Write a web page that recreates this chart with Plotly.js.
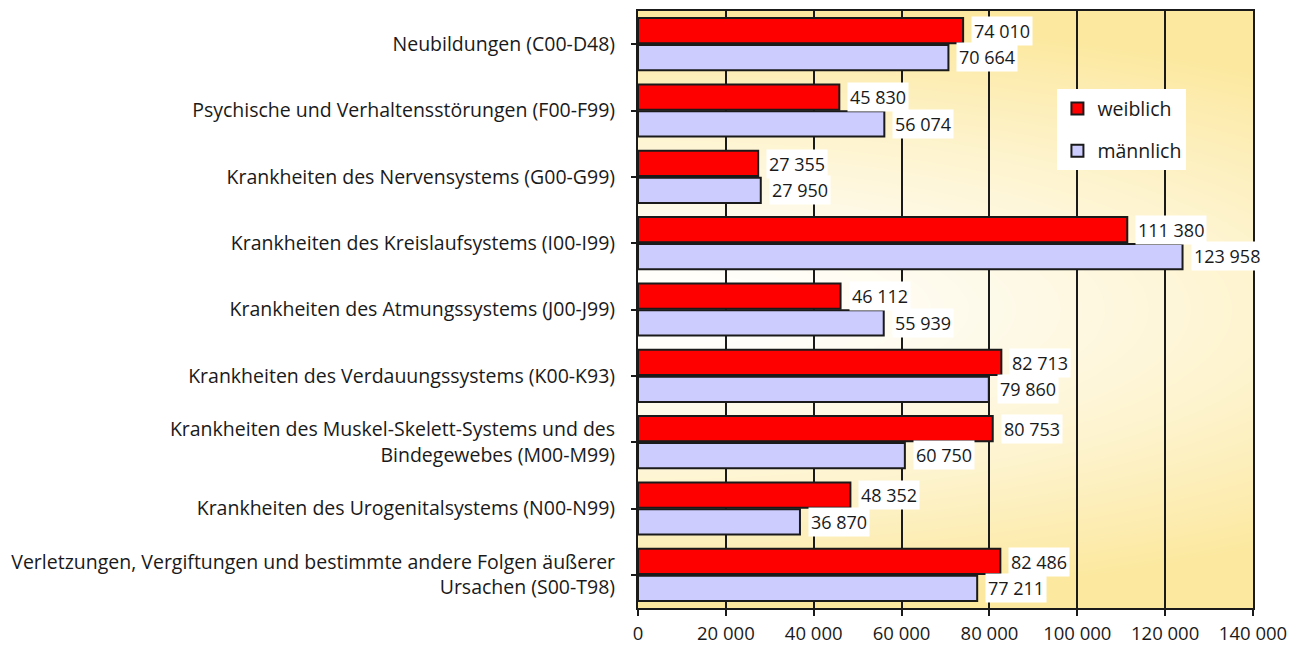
<!DOCTYPE html>
<html>
<head>
<meta charset="utf-8">
<script src="https://cdn.plot.ly/plotly-3.0.1.min.js"></script>
<style>
html, body { margin: 0; padding: 0; background: #ffffff; }
#chart { width: 1305px; height: 645px; }
</style>
</head>
<body>
<div id="chart"></div>
<script>
const categories = [
  "Neubildungen (C00-D48)",
  "Psychische und Verhaltensstörungen (F00-F99)",
  "Krankheiten des Nervensystems (G00-G99)",
  "Krankheiten des Kreislaufsystems (I00-I99)",
  "Krankheiten des Atmungssystems (J00-J99)",
  "Krankheiten des Verdauungssystems (K00-K93)",
  "Krankheiten des Muskel-Skelett-Systems und des<br>Bindegewebes (M00-M99)",
  "Krankheiten des Urogenitalsystems (N00-N99)",
  "Verletzungen, Vergiftungen und bestimmte andere Folgen äußerer<br>Ursachen (S00-T98)"
];
const weiblich = [74010, 45830, 27355, 111380, 46112, 82713, 80753, 48352, 82486];
const maennlich = [70664, 56074, 27950, 123958, 55939, 79860, 60750, 36870, 77211];
const seriesNames = ["weiblich", "männlich"];
const xTickVals = [0, 20000, 40000, 60000, 80000, 100000, 120000, 140000];

const FONT = "'Open Sans', 'Noto Sans', sans-serif";

function fmt(v) {
  return String(v).replace(/\B(?=(\d{3})+(?!\d))/g, ' ');
}

// background gradient image (white centre-left, yellow towards edges)
function makeGradient() {
  const W = 600, H = 600;
  const c = document.createElement('canvas');
  c.width = W; c.height = H;
  const ctx = c.getContext('2d');
  const img = ctx.createImageData(W, H);
  const yel = [252, 232, 158];
  for (let j = 0; j < H; j++) {
    for (let i = 0; i < W; i++) {
      const dy = Math.abs(j - H / 2) / (H / 2);
      const dx = i / W;
      let t = Math.sqrt(dy * dy + 0.35 * dx * dx);
      if (t > 1) t = 1;
      t = Math.pow(t, 1.4);
      const k = (j * W + i) * 4;
      img.data[k] = Math.round(255 + (yel[0] - 255) * t);
      img.data[k + 1] = Math.round(255 + (yel[1] - 255) * t);
      img.data[k + 2] = Math.round(255 + (yel[2] - 255) * t);
      img.data[k + 3] = 255;
    }
  }
  ctx.putImageData(img, 0, 0);
  return c.toDataURL('image/png');
}

const idx = categories.map((_, i) => i);

const traces = [
  {
    type: 'bar', orientation: 'h', name: seriesNames[0], legendgroup: 'w',
    y: idx, x: weiblich,
    marker: { color: '#ff0000', line: { color: '#1a1a1a', width: 2 } },
    hoverinfo: 'x'
  },
  {
    type: 'bar', orientation: 'h', name: seriesNames[1], legendgroup: 'm',
    y: idx, x: maennlich,
    marker: { color: '#ccccff', line: { color: '#1a1a1a', width: 2 } },
    hoverinfo: 'x'
  }
];

const LBL = 18;
const annotations = [];
weiblich.forEach((v, i) => annotations.push({
  x: v, y: i - 0.2, xref: 'x', yref: 'y', text: fmt(v), showarrow: false,
  xanchor: 'left', yanchor: 'middle', xshift: 8, bgcolor: '#ffffff', borderpad: 2,
  font: { family: FONT, size: LBL, color: '#1a1a1a' }
}));
maennlich.forEach((v, i) => annotations.push({
  x: v, y: i + 0.2, xref: 'x', yref: 'y', text: fmt(v), showarrow: false,
  xanchor: 'left', yanchor: 'middle', xshift: 8, bgcolor: '#ffffff', borderpad: 2,
  font: { family: FONT, size: LBL, color: '#1a1a1a' }
}));

const layout = {
  width: 1305, height: 645,
  margin: { l: 638, r: 52, t: 11, b: 37, pad: 0 },
  paper_bgcolor: '#ffffff',
  plot_bgcolor: 'rgba(0,0,0,0)',
  separators: ', ',
  barmode: 'group',
  bargap: 0.19,
  bargroupgap: 0.06,
  showlegend: true,
  legend: {
    x: 0.682, y: 0.869, xanchor: 'left', yanchor: 'top',
    bgcolor: '#ffffff', borderwidth: 0,
    traceorder: 'grouped', tracegroupgap: 14,
    font: { family: FONT, size: 19.5, color: '#1a1a1a' }
  },
  font: { family: FONT, size: 19.5, color: '#1a1a1a' },
  xaxis: {
    range: [0, 140000],
    tickvals: xTickVals,
    tickformat: ',d',
    ticks: 'outside', ticklen: 6, tickwidth: 2, tickcolor: '#1a1a1a',
    showgrid: true, gridcolor: '#1a1a1a', gridwidth: 2,
    showline: true, linecolor: '#1a1a1a', linewidth: 2, mirror: true,
    zeroline: false,
    tickfont: { family: FONT, size: 18.5, color: '#1a1a1a' },
    ticklabelstandoff: 2,
    fixedrange: true
  },
  yaxis: {
    type: 'linear',
    range: [categories.length - 0.5, -0.5],
    tickvals: idx, ticktext: categories,
    ticks: 'outside', ticklen: 5, tickwidth: 2, tickcolor: '#1a1a1a',
    showgrid: false, zeroline: false,
    showline: true, linecolor: '#1a1a1a', linewidth: 2, mirror: true,
    tickfont: { family: FONT, size: 19.5, color: '#1a1a1a' },
    ticklabelstandoff: 12,
    fixedrange: true
  },
  images: [{
    source: makeGradient(), xref: 'paper', yref: 'paper',
    x: 0, y: 1, sizex: 1, sizey: 1, sizing: 'stretch', layer: 'below'
  }],
  annotations: annotations
};

Plotly.newPlot('chart', traces, layout, { displayModeBar: false, staticPlot: true });
</script>
</body>
</html>
